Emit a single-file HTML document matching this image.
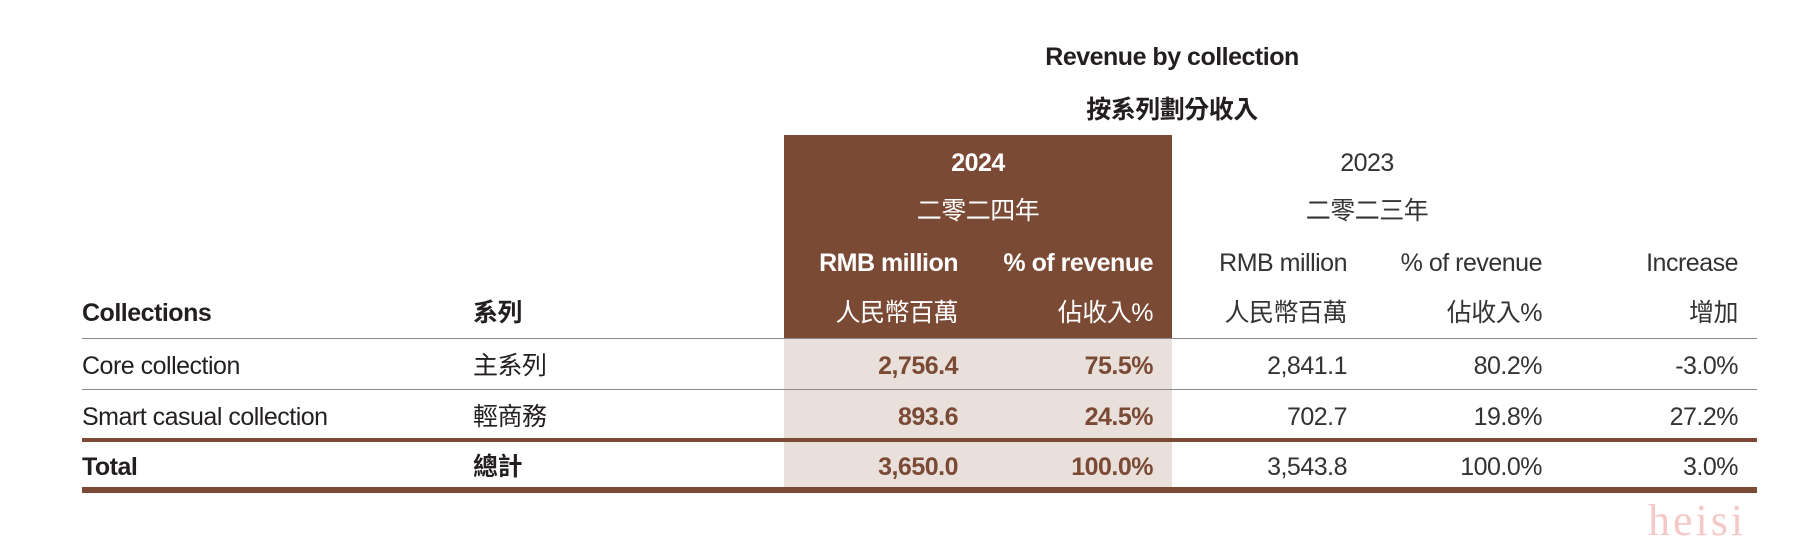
<!DOCTYPE html>
<html><head><meta charset="utf-8"><style>
body{margin:0;width:1795px;height:550px;background:#fff;position:relative;overflow:hidden;font-family:"Liberation Sans","Noto Sans CJK TC",sans-serif;color:#231f20}
.t{position:absolute;height:34px;line-height:34px;font-size:25px;white-space:nowrap;letter-spacing:-0.5px}
.r{text-align:right}
.c{text-align:center}
.b{font-weight:bold}
.w{color:#fff}
.br{color:#7a4a35;font-weight:bold}
.g{color:#333}
.line{position:absolute;left:82px;width:1675px}
</style></head><body>
<div class="t c b" style="left:972px;width:400px;top:40px;font-size:25px">Revenue by collection</div>
<div class="t c b" style="left:972px;width:400px;top:93px">按系列劃分收入</div>
<div style="position:absolute;left:784px;top:135px;width:388px;height:204px;background:#7a4a35"></div>
<div style="position:absolute;left:784px;top:339px;width:388px;height:151px;background:#e9e0db"></div>
<div class="t c b w" style="left:784px;width:388px;top:146px">2024</div>
<div class="t c w" style="left:784px;width:388px;top:194px">二零二四年</div>
<div class="t c g" style="left:1172px;width:390px;top:146px">2023</div>
<div class="t c g" style="left:1172px;width:390px;top:194px">二零二三年</div>
<div class="t r b w" style="right:837px;top:246px">RMB million</div>
<div class="t r b w" style="right:642px;top:246px">% of revenue</div>
<div class="t r w" style="right:837px;top:296px">人民幣百萬</div>
<div class="t r w" style="right:642px;top:296px">佔收入%</div>
<div class="t r g" style="right:448px;top:246px">RMB million</div>
<div class="t r g" style="right:253px;top:246px">% of revenue</div>
<div class="t r g" style="right:57px;top:246px">Increase</div>
<div class="t r g" style="right:448px;top:296px">人民幣百萬</div>
<div class="t r g" style="right:253px;top:296px">佔收入%</div>
<div class="t r g" style="right:57px;top:296px">增加</div>
<div class="t b" style="left:82px;top:296px">Collections</div>
<div class="t b" style="left:473px;top:296px">系列</div>
<div class="line" style="top:338px;height:1px;background:#8a8a8a"></div>
<div class="t" style="left:82px;top:349px">Core collection</div>
<div class="t" style="left:473px;top:349px">主系列</div>
<div class="t r br" style="right:837px;top:349px">2,756.4</div>
<div class="t r br" style="right:642px;top:349px">75.5%</div>
<div class="t r g" style="right:448px;top:349px">2,841.1</div>
<div class="t r g" style="right:253px;top:349px">80.2%</div>
<div class="t r g" style="right:57px;top:349px">-3.0%</div>
<div class="line" style="top:389px;height:1px;background:#8a8a8a"></div>
<div class="t" style="left:82px;top:400px">Smart casual collection</div>
<div class="t" style="left:473px;top:400px">輕商務</div>
<div class="t r br" style="right:837px;top:400px">893.6</div>
<div class="t r br" style="right:642px;top:400px">24.5%</div>
<div class="t r g" style="right:448px;top:400px">702.7</div>
<div class="t r g" style="right:253px;top:400px">19.8%</div>
<div class="t r g" style="right:57px;top:400px">27.2%</div>
<div class="line" style="top:438px;height:4px;background:#7a4a35"></div>
<div class="t b" style="left:82px;top:450px">Total</div>
<div class="t b" style="left:473px;top:450px">總計</div>
<div class="t r br" style="right:837px;top:450px">3,650.0</div>
<div class="t r br" style="right:642px;top:450px">100.0%</div>
<div class="t r g" style="right:448px;top:450px">3,543.8</div>
<div class="t r g" style="right:253px;top:450px">100.0%</div>
<div class="t r g" style="right:57px;top:450px">3.0%</div>
<div class="line" style="top:487px;height:6px;background:#7a4a35"></div>
<div style="position:absolute;left:1648px;top:495px;font-family:'Liberation Serif',serif;font-size:44px;color:#f6c9c9;letter-spacing:3px">heisi</div>
</body></html>
